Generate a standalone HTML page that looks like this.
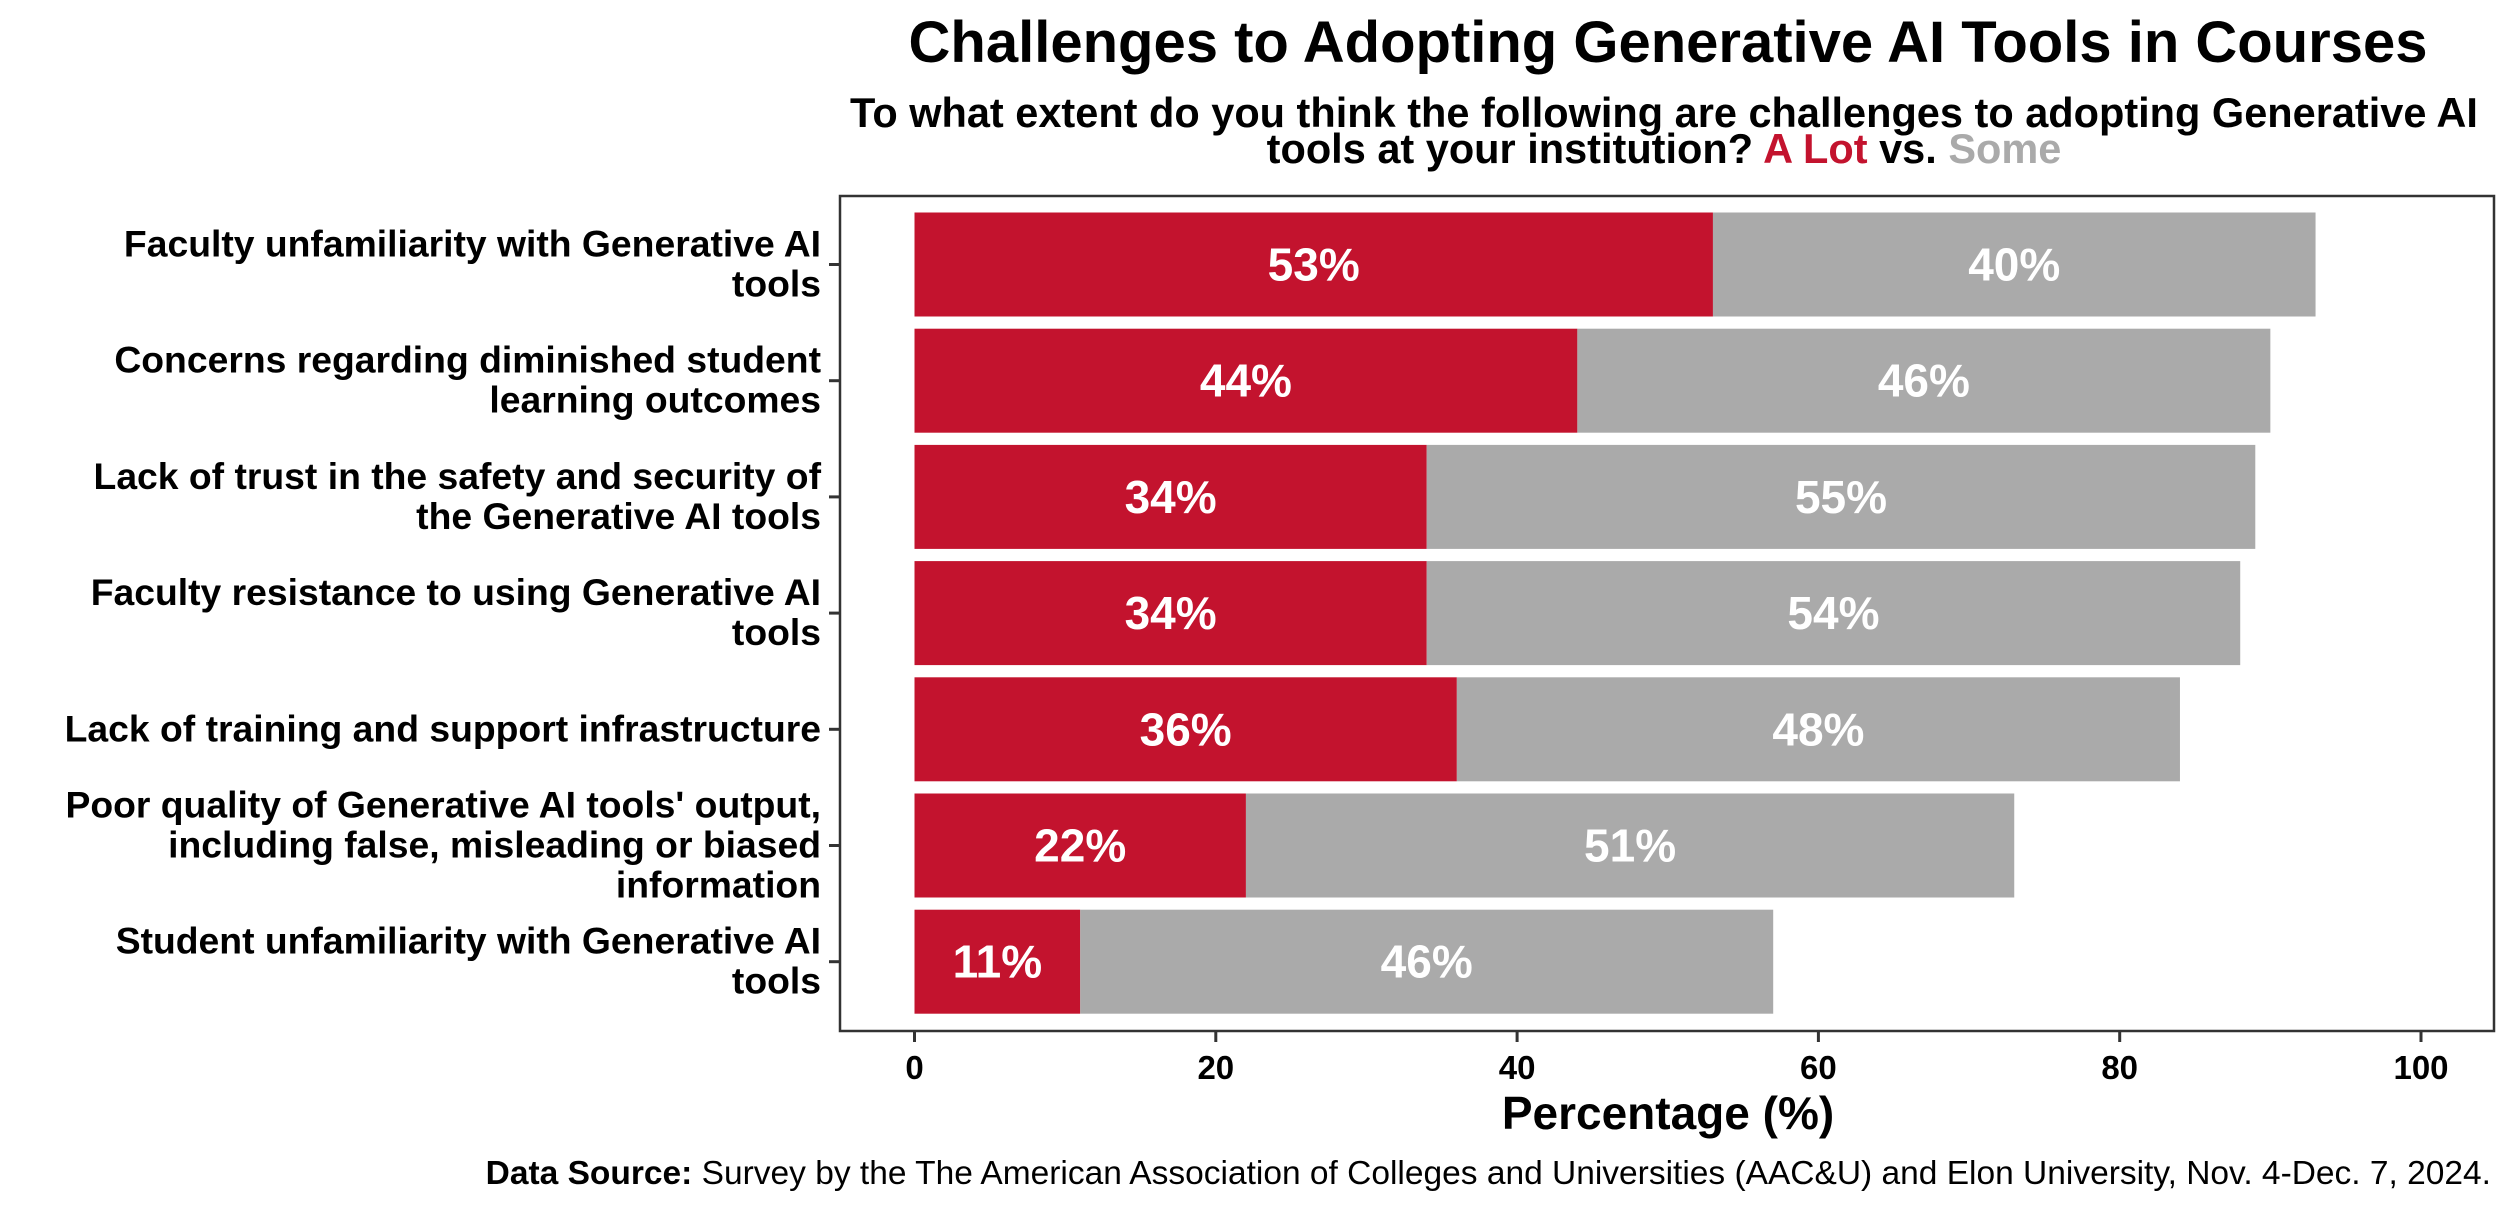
<!DOCTYPE html>
<html><head><meta charset="utf-8"><style>
html,body{margin:0;padding:0;background:#fff;}
svg{display:block;font-family:"Liberation Sans",Arial,sans-serif;}
</style></head><body>
<svg id="chart" width="2520" height="1215" viewBox="0 0 2520 1215">
<text x="1668" y="62" text-anchor="middle" font-size="58" font-weight="bold">Challenges to Adopting Generative AI Tools in Courses</text>
<text x="1664" y="127" text-anchor="middle" font-size="41.5" font-weight="bold">To what extent do you think the following are challenges to adopting Generative AI</text>
<text x="1664" y="163" text-anchor="middle" font-size="41.5" font-weight="bold">tools at your institution? <tspan fill="#c3132e">A Lot</tspan> vs. <tspan fill="#aaaaaa">Some</tspan></text>
<g id="plot"></g>
<rect x="840" y="196" width="1654" height="835" fill="none" stroke="#333" stroke-width="2.5"/>
<text x="1668" y="1129" text-anchor="middle" font-size="46" font-weight="bold">Percentage (%)</text>
<text x="2491" y="1184" text-anchor="end" font-size="33.5"><tspan font-weight="bold">Data Source:</tspan> Survey by the The American Association of Colleges and Universities (AAC&amp;U) and Elon University, Nov. 4-Dec. 7, 2024.</text>
</svg>
<script>
const categories=[
 ["Faculty unfamiliarity with Generative AI","tools"],
 ["Concerns regarding diminished student","learning outcomes"],
 ["Lack of trust in the safety and security of","the Generative AI tools"],
 ["Faculty resistance to using Generative AI","tools"],
 ["Lack of training and support infrastructure"],
 ["Poor quality of Generative AI tools' output,","including false, misleading or biased","information"],
 ["Student unfamiliarity with Generative AI","tools"]
];
const aLot=[53,44,34,34,36,22,11];
const some=[40,46,55,54,48,51,46];
const xTicks=[0,20,40,60,80,100];

const NS="http://www.w3.org/2000/svg";
const g=document.getElementById('plot');
const svg=document.getElementById('chart');
const x=v=>914.5+v*15.065;
const yc=i=>264.5+i*116.2;
const bh=104;
function mk(t,a,parent){const e=document.createElementNS(NS,t);for(const k in a)e.setAttribute(k,a[k]);(parent||g).appendChild(e);return e;}
categories.forEach((c,i)=>{
 const cy=yc(i);
 const r1=mk('rect',{x:x(0),y:cy-bh/2,width:x(aLot[i])-x(0),height:bh,fill:'#c3132e'});
 
 
 const r2=mk('rect',{x:x(aLot[i]),y:cy-bh/2,width:x(aLot[i]+some[i])-x(aLot[i]),height:bh,fill:'#aaaaaa'});
 
 
 const t1=mk('text',{x:(x(0)+x(aLot[i]))/2,y:cy+16,'text-anchor':'middle','font-size':46,'font-weight':'bold',fill:'#fff'});
 t1.textContent=aLot[i]+'%';
 
 
 const t2=mk('text',{x:(x(aLot[i])+x(aLot[i]+some[i]))/2,y:cy+16,'text-anchor':'middle','font-size':46,'font-weight':'bold',fill:'#fff'});
 t2.textContent=some[i]+'%';
 
 
 const tk=mk('line',{x1:829,x2:840,y1:cy,y2:cy,stroke:'#333','stroke-width':3},svg);
 
 
 const n=c.length,sp=40;
 c.forEach((line,j)=>{
  const t=mk('text',{x:821,y:cy+12+(j-(n-1)/2)*sp,'text-anchor':'end','font-size':37.3,'font-weight':'bold'},svg);
  t.textContent=line;
  
  
 });
});
xTicks.forEach(v=>{
 const l=mk('line',{x1:x(v),x2:x(v),y1:1031,y2:1042,stroke:'#333','stroke-width':3},svg);
 
 
 const t=mk('text',{x:x(v),y:1079,'text-anchor':'middle','font-size':33,'font-weight':'bold'},svg);
 t.textContent=v;
 
 
});
</script>
</body></html>
